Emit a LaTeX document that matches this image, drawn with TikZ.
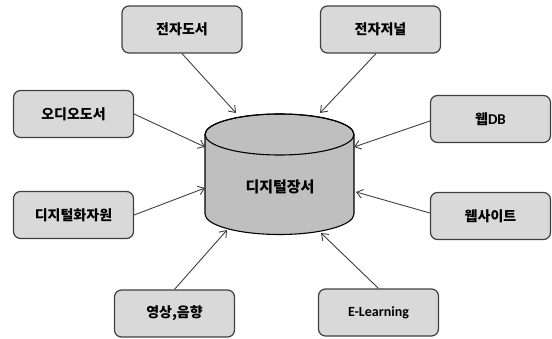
\documentclass[tikz,border=0pt]{standalone}
\usepackage{fontspec}
\setmainfont{Noto Sans CJK KR}
\newfontfamily\latinfont{Carlito}
\usetikzlibrary{arrows.meta}
\definecolor{boxfill}{HTML}{D9D9D9}
\definecolor{cylfill}{HTML}{BFBFBF}
\definecolor{edge}{HTML}{404040}
\tikzset{
  srcbox/.style={draw=edge, line width=1.2pt, fill=boxfill, rounded corners=7pt,
    minimum width=120pt, minimum height=47pt, inner sep=0pt,
    font=\fontsize{14}{16}\selectfont\bfseries},
  link/.style={draw=edge, line width=0.9pt, -{Straight Barb[length=6pt,width=9pt]}},
  cyl/.style={draw=black, line width=1.1pt, fill=cylfill}
}
\begin{document}
\begin{tikzpicture}[x=1pt,y=1pt]
\useasboundingbox (0,0) rectangle (552,338);
% cylinder
\filldraw[cyl] (205,203.5) -- (205,124)
  arc[start angle=180,end angle=360,x radius=74.5,y radius=20.5]
  -- (354,203.5)
  arc[start angle=0,end angle=180,x radius=74.5,y radius=20.5] -- cycle;
\draw[cyl,fill=none] (279.5,203.5) ellipse[x radius=74.5,y radius=20.5];
\node[font=\fontsize{15}{17}\selectfont\bfseries] (center) at (280,151) {디지털장서};
% target points on the cylinder
\coordinate (t1) at (236,225);
\coordinate (t2) at (320,225);
\coordinate (t3) at (205,191);
\coordinate (t4) at (354,191);
\coordinate (t5) at (205,150);
\coordinate (t6) at (227,108);
\coordinate (t7) at (356,146);
\coordinate (t8) at (321,105);
% boxes
\node[srcbox] (b1) at (182,308.5) {전자도서};
\node[srcbox] (b2) at (380.5,308.5) {전자저널};
\node[srcbox] (b3) at (73.5,224) {오디오도서};
\node[srcbox] (b4) at (490.5,219) {웹{\latinfont\fontsize{15}{17}\selectfont DB}};
\node[srcbox] (b5) at (73.5,123) {디지털화자원};
\node[srcbox] (b6) at (174.5,24.5) {영상,음향};
\node[srcbox] (b7) at (490.5,122) {웹사이트};
\node[srcbox, font=\latinfont\fontsize{14}{16}\selectfont\bfseries] (b8) at (378.5,25.5) {E-Learning};
% connectors
\draw[link] (b1.south) -- (t1);
\draw[link] ([xshift=-4.5pt]b2.south) -- (t2);
\draw[link] (b3.east) -- (t3);
\draw[link] ([yshift=-2pt]b4.west) -- (t4);
\draw[link] (b5.east) -- (t5);
\draw[link] (b6.north) -- (t6);
\draw[link] ([yshift=3pt]b7.west) -- (t7);
\draw[link] (b8.north) -- (t8);
\end{tikzpicture}
\end{document}
